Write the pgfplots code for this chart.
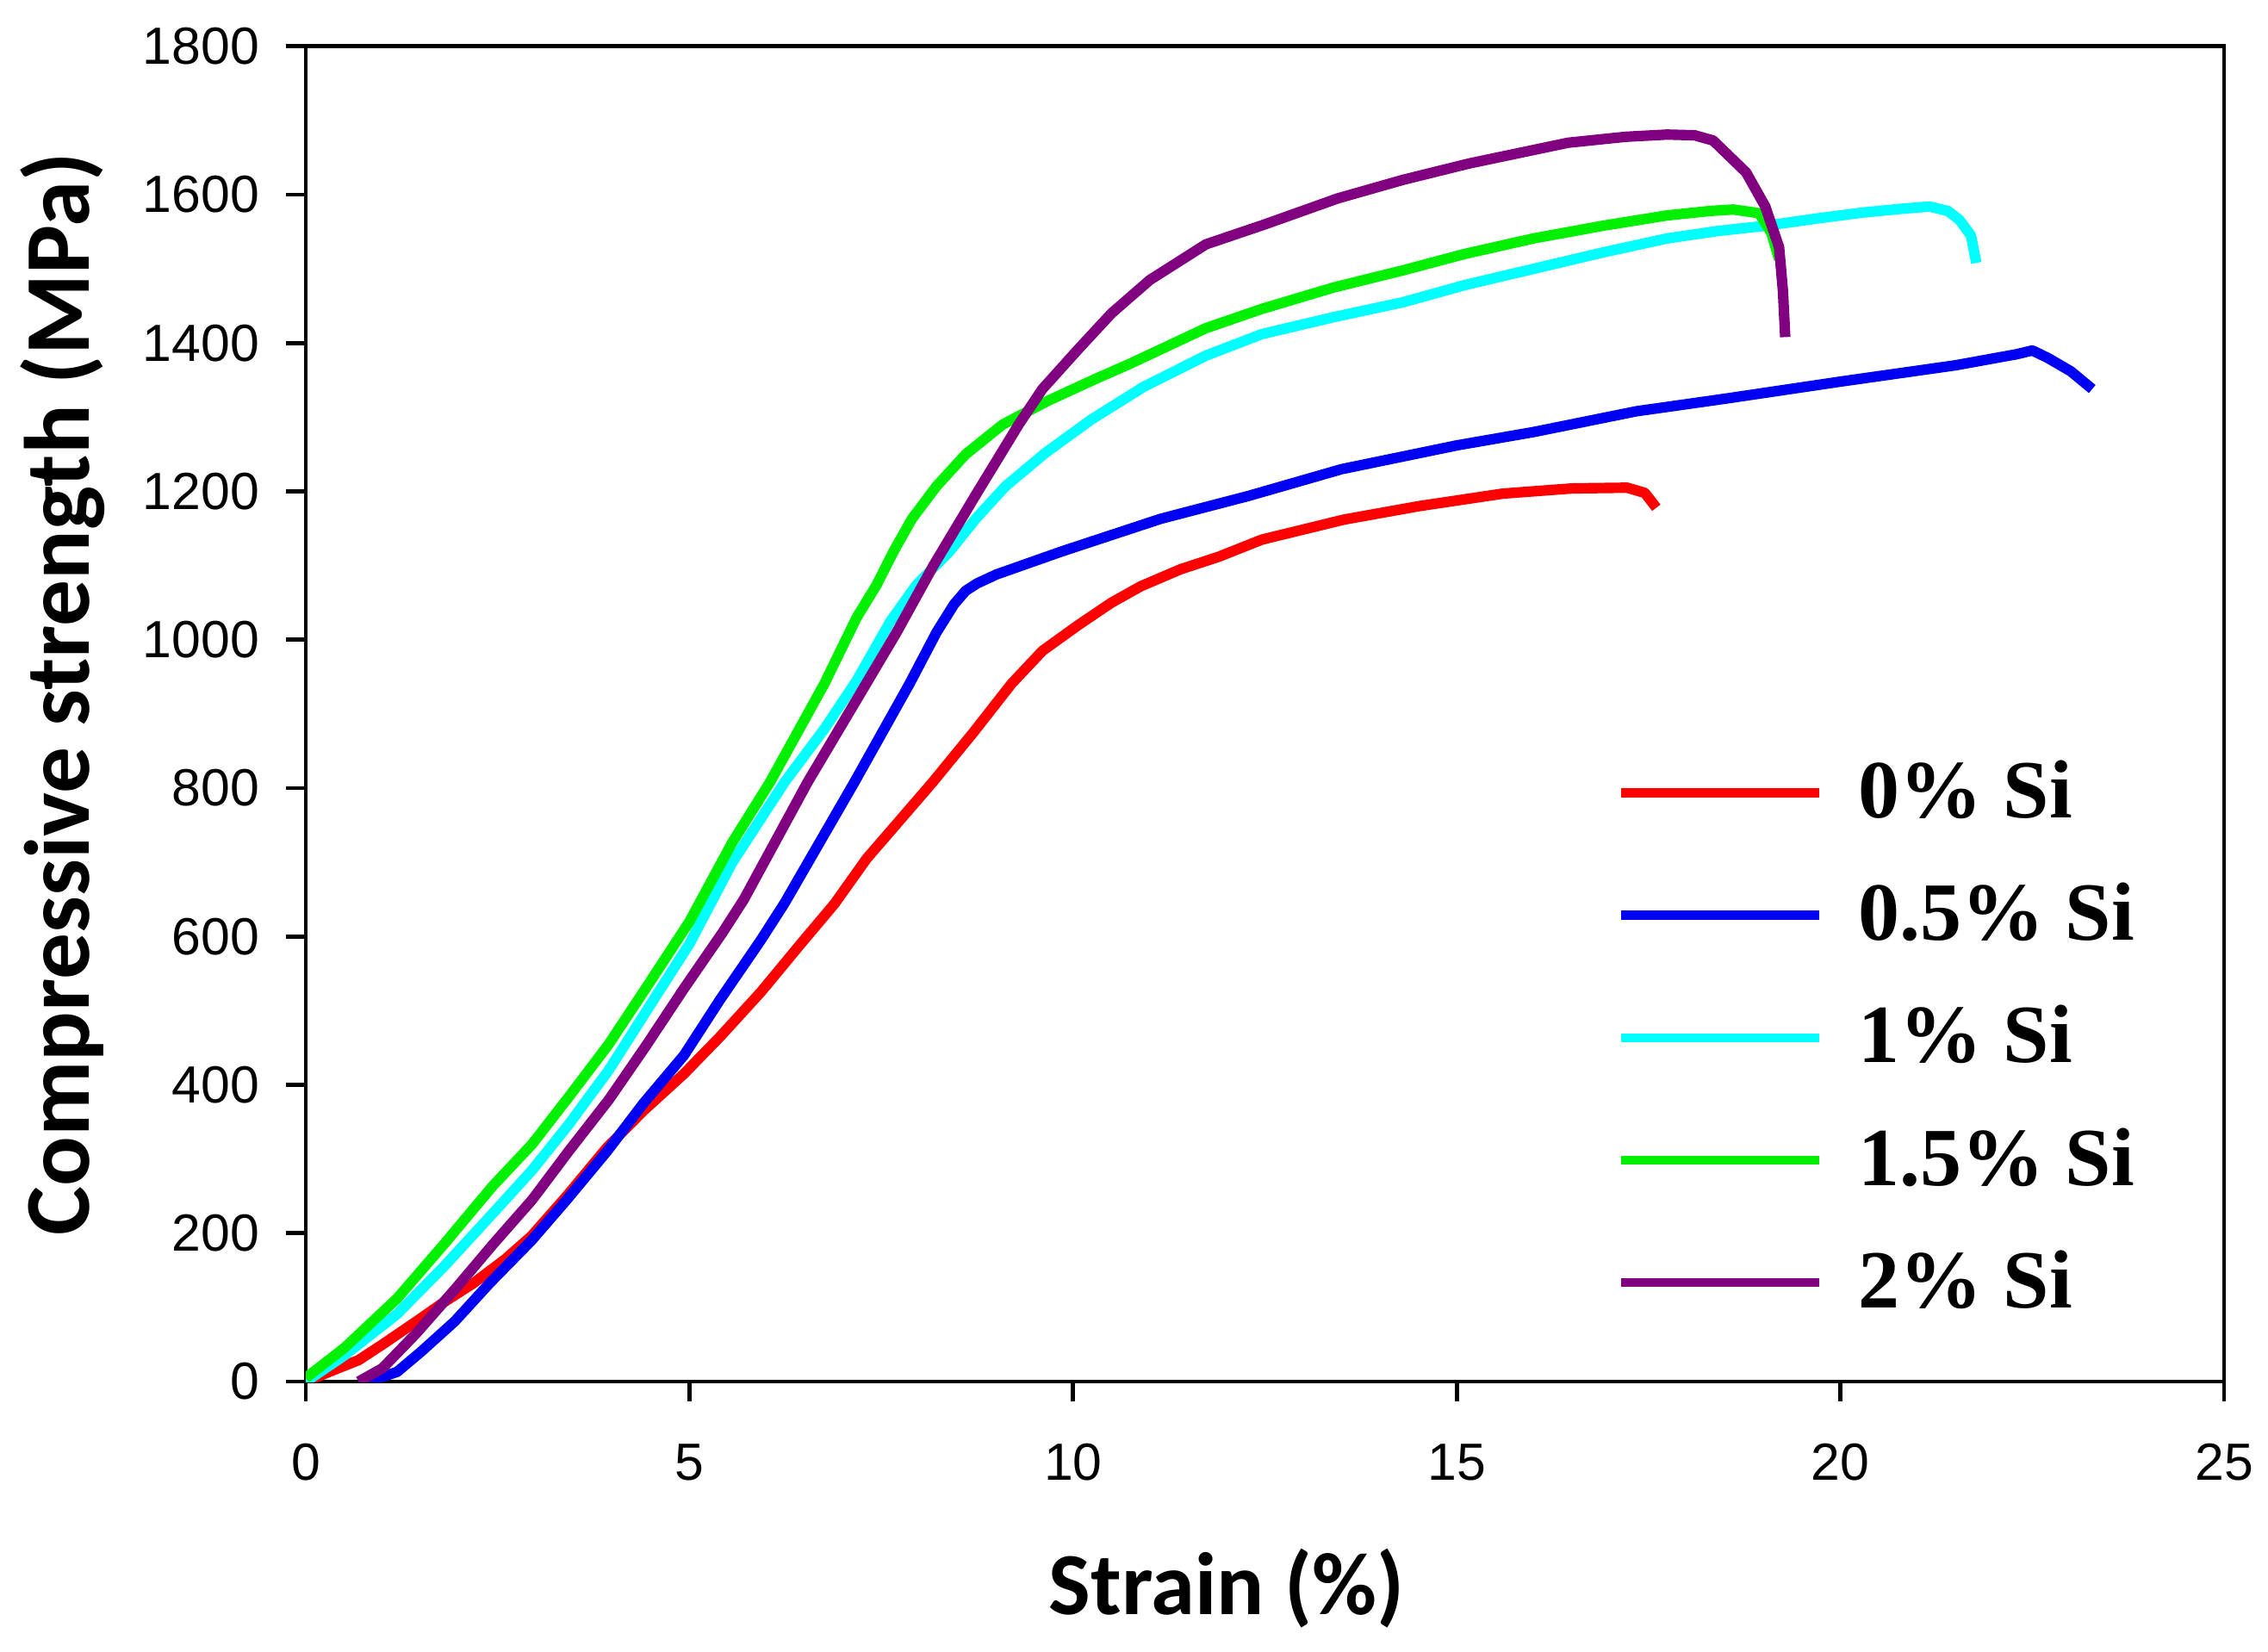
\documentclass[border=0pt]{standalone}
\usepackage{fontspec}
\setmainfont{Liberation Sans}
\newfontfamily\labelfont{Carlito}
\newfontfamily\legfont{Liberation Serif}
\usepackage{pgfplots}
\pgfplotsset{compat=1.18}
\definecolor{cRed}{rgb}{1,0,0}
\definecolor{cBlue}{rgb}{0,0,0.95}
\definecolor{cCyan}{rgb}{0,1,1}
\definecolor{cGreen}{rgb}{0,0.94,0}
\definecolor{cPurple}{rgb}{0.50,0,0.50}

\begin{document}
\begin{tikzpicture}
\begin{axis}[%
width=385.3pt,
height=268.2pt,
scale only axis,
xmin=0, xmax=25,
ymin=0, ymax=1800,
xtick={0,5,...,25},
ytick={0,200,...,1800},
tick align=outside,
xtick pos=bottom,
ytick pos=left,
major tick length=4pt,
axis line style={line width=0.8pt},
every tick/.style={black, line width=0.8pt},
/pgf/number format/assume math mode=true,
/pgf/number format/1000 sep={},
tick label style={font=\fontsize{10.5}{12}\selectfont},
xticklabel style={yshift=-5pt},
yticklabel style={xshift=-1.8pt},
xlabel={Strain (\%)},
ylabel={Compressive strength (MPa)},
every axis x label/.style={at={([yshift=-41.5pt]rel axis cs:0.48,0)}, anchor=center,
  font=\labelfont\bfseries\fontsize{17.8}{20}\selectfont},
every axis y label/.style={at={([xshift=-48.8pt]rel axis cs:0,0.515)}, anchor=center, rotate=90,
  font=\labelfont\bfseries\fontsize{18.6}{20}\selectfont},
legend style={draw=none, fill=none, at={(rel axis cs:0.6834,0.2576)}, anchor=west,
  inner sep=0pt, outer sep=0pt, row sep=11.5pt, column sep=7pt,
  font=\legfont\bfseries\fontsize{16.6}{19}\selectfont,
  nodes={inner sep=0pt, text height=11.6pt, text depth=1.5pt}},
legend cell align=left,
legend image code/.code={\draw[#1, line width=1.8pt] (0pt,0pt) -- (39.8pt,0pt);},
every axis plot/.append style={line width=2.1pt, line join=round},
]
\addplot [cRed] coordinates {(0,0)(0.35,15)(0.69,29)(1.0,50)(1.44,81)(1.8,107)(2.19,133)(2.6,165)(2.94,196)(3.4,250)(3.93,316)(4.4,365)(4.93,415)(5.4,465)(5.93,525)(6.45,590)(6.89,644)(7.31,705)(8.17,808)(8.7,875)(9.2,941)(9.6,985)(10.07,1020)(10.5,1050)(10.88,1072)(11.4,1095)(11.9,1112)(12.46,1135)(13.53,1162)(14.5,1180)(15.6,1197)(16.5,1204)(17.22,1205)(17.45,1198)(17.6,1178)};
\addlegendentry{0\% Si}

\addplot [cBlue] coordinates {(0.69,0)(0.9,3)(1.19,13)(1.5,40)(1.94,81)(2.4,133)(2.94,190)(3.4,245)(3.93,311)(4.4,375)(4.93,440)(5.4,515)(5.93,595)(6.24,645)(7.15,808)(7.87,941)(8.22,1010)(8.45,1048)(8.6,1066)(8.75,1076)(9.0,1088)(9.85,1119)(11.14,1163)(12.29,1194)(13.5,1230)(15,1262)(16,1280)(17.34,1308)(18.5,1325)(20,1348)(21.5,1370)(22.3,1385)(22.5,1390)(22.7,1380)(23,1362)(23.28,1338)};
\addlegendentry{0.5\% Si}

\addplot [cCyan] coordinates {(0,0)(0.5,35)(1.19,91)(1.8,155)(2.44,227)(2.95,285)(3.43,347)(3.95,420)(4.43,498)(5.0,590)(5.56,700)(6.24,808)(6.76,880)(7.18,945)(7.62,1025)(7.96,1074)(8.39,1119)(8.73,1163)(9.12,1207)(9.64,1252)(10.24,1297)(10.92,1341)(11.73,1383)(12.46,1412)(13.4,1435)(14.3,1455)(15.1,1478)(16,1500)(16.9,1522)(17.74,1541)(18.4,1551)(19.02,1558)(19.7,1568)(20.3,1576)(20.8,1581)(21.16,1584)(21.4,1578)(21.55,1566)(21.7,1545)(21.77,1508)};
\addlegendentry{1\% Si}

\addplot [cGreen] coordinates {(0,5)(0.5,45)(1.19,112)(1.8,185)(2.44,264)(2.95,320)(3.43,384)(3.95,455)(4.43,530)(5.0,620)(5.56,727)(6.05,808)(6.76,941)(7.18,1030)(7.44,1074)(7.66,1119)(7.9,1163)(8.22,1207)(8.6,1250)(9.08,1290)(9.67,1322)(10.3,1352)(10.74,1372)(11.73,1420)(12.46,1446)(13.4,1475)(14.3,1498)(15.1,1520)(16.0,1541)(16.9,1558)(17.74,1572)(18.3,1578)(18.6,1580)(18.94,1575)(19.1,1548)(19.2,1513)};
\addlegendentry{1.5\% Si}

\addplot [cPurple] coordinates {(0.69,0)(1.0,18)(1.44,65)(1.95,125)(2.44,185)(2.95,245)(3.43,311)(3.95,380)(4.43,452)(4.93,530)(5.43,605)(5.71,650)(6.54,808)(7.27,935)(7.7,1010)(8.18,1100)(8.73,1195)(9.29,1290)(9.6,1338)(10.07,1392)(10.5,1440)(11.0,1485)(11.73,1533)(12.5,1560)(13.45,1595)(14.3,1620)(15.16,1642)(16.45,1670)(17.2,1678)(17.74,1681)(18.1,1680)(18.34,1673)(18.77,1630)(19.02,1584)(19.2,1529)(19.25,1470)(19.28,1408)};
\addlegendentry{2\% Si}

\coordinate (bl) at (rel axis cs:0,0);
\coordinate (tr) at (rel axis cs:1,1);
\end{axis}
\pgfresetboundingbox
\path[use as bounding box] ([shift={(-61.4pt,-54.2pt)}]bl) rectangle ([shift={(8.8pt,9.3pt)}]tr);
\end{tikzpicture}
\end{document}
